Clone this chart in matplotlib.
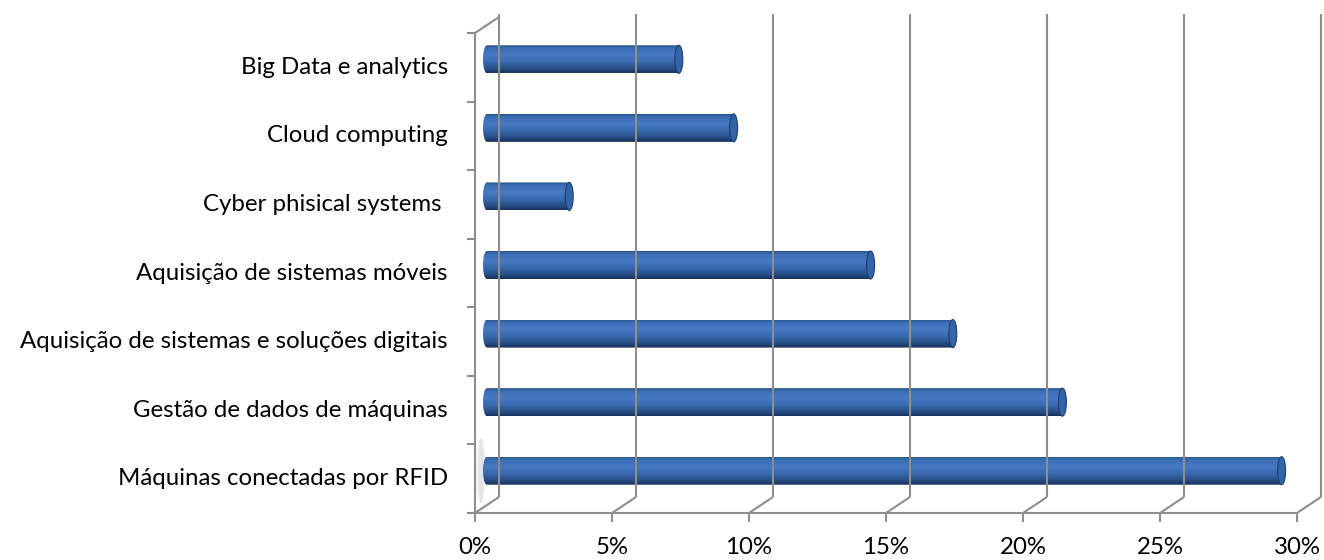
import matplotlib
matplotlib.use("Agg")
import matplotlib.pyplot as plt
from matplotlib.transforms import ScaledTranslation
from matplotlib.patches import Rectangle, Ellipse, Polygon
from matplotlib.colors import LinearSegmentedColormap
import numpy as np

categories = ["Big Data e analytics", "Cloud computing", "Cyber phisical systems ",
              "Aquisição de sistemas móveis", "Aquisição de sistemas e soluções digitais",
              "Gestão de dados de máquinas", "Máquinas conectadas por RFID"]
values = [7, 9, 3, 14, 17, 21, 29]
xticks = [0, 5, 10, 15, 20, 25, 30]
xticklabels = ["0%", "5%", "10%", "15%", "20%", "25%", "30%"]

W, H, DPI = 1324, 560, 100
fig = plt.figure(figsize=(W / DPI, H / DPI), dpi=DPI)
L, R, B, T = 475, 1297, 513, 33
ax = fig.add_axes([L / W, (H - B) / H, (R - L) / W, (B - T) / H])
ax.set_xlim(0, 30)
ax.set_ylim(0, 7)
ax.axis("off")

FONT = ["Lato", "DejaVu Sans"]
FS = 17.3
grid_c = "#8E8E8E"
lw = 1.5

def off(dx, dy):
    return ax.transData + ScaledTranslation(dx / DPI, dy / DPI, fig.dpi_scale_trans)

DX, DY = 24, 16
back = off(DX, DY)
mid = off(12, 8)
px_x = (R - L) / 30.0
px_y = (B - T) / 7.0

n = len(categories)
ypos = [n - 0.5 - i for i in range(n)]

def line(xs, ys, tr=None):
    ax.plot(xs, ys, transform=tr if tr is not None else ax.transData,
            color=grid_c, lw=lw, clip_on=False, solid_capstyle="butt")

# back wall gridlines
for x in xticks:
    line([x, x], [0, 7.05], back)
# floor depth lines
for x in xticks:
    line([x, x + DX / px_x], [0, DY / px_y])
# top-left depth line
line([0, DX / px_x], [7, 7 + DY / px_y])
# front axes
line([0, 30], [0, 0])
line([0, 0], [0, 7])
for k in range(8):
    line([-8 / px_x, 0], [k, k])
for x in xticks:
    line([x, x], [0, -9 / px_y])

# shadow near the bottom bar
for s, a in [(12, 0.05), (8, 0.07), (5, 0.09)]:
    e = Ellipse((0, ypos[-1]), s / px_x, 0.95, transform=off(6, 8), color="#808080",
                alpha=a, lw=0, clip_on=False)
    ax.add_patch(e)

cmap = LinearSegmentedColormap.from_list("cyl", [
    (0.0, "#2B5590"), (0.1, "#3B6EB5"), (0.35, "#4679C2"), (0.6, "#3869AF"),
    (0.85, "#264D85"), (1.0, "#17325E")])

bh = 28 / px_y
cw = 8 / px_x
ns = 40
for yv, v, lab in zip(ypos, values, categories):
    th = np.linspace(np.pi / 2, 3 * np.pi / 2, 30)
    left = np.column_stack([cw / 2 * np.cos(th), yv + bh / 2 * np.sin(th)])
    verts = np.vstack([[[v, yv + bh / 2]], left, [[v, yv - bh / 2]], [[v, yv + bh / 2]]])
    body = Polygon(verts, closed=True, transform=mid, fc="none", ec="none", clip_on=False)
    ax.add_patch(body)
    for k in range(ns):
        t = k / (ns - 1)
        r = Rectangle((-cw, yv + bh / 2 - (k + 1) * bh / ns), v + cw, bh / ns * 1.05,
                      transform=mid, color=cmap(t), lw=0)
        ax.add_patch(r)
        r.set_clip_path(body)
    cap = Ellipse((v, yv), cw, bh, transform=mid, fc="#3164A8", ec="#1E3D6C", lw=0.8,
                  clip_on=False)
    ax.add_patch(cap)
    ax.text(0, yv, lab, transform=off(-27, 0), ha="right", va="center",
            fontsize=FS, family=FONT, color="black")

for x, lab in zip(xticks, xticklabels):
    ax.text(x, 0, lab, transform=off(0, -35), ha="center", va="center",
            fontsize=FS, family=FONT, color="black")

fig.savefig("out.png", dpi=DPI)
